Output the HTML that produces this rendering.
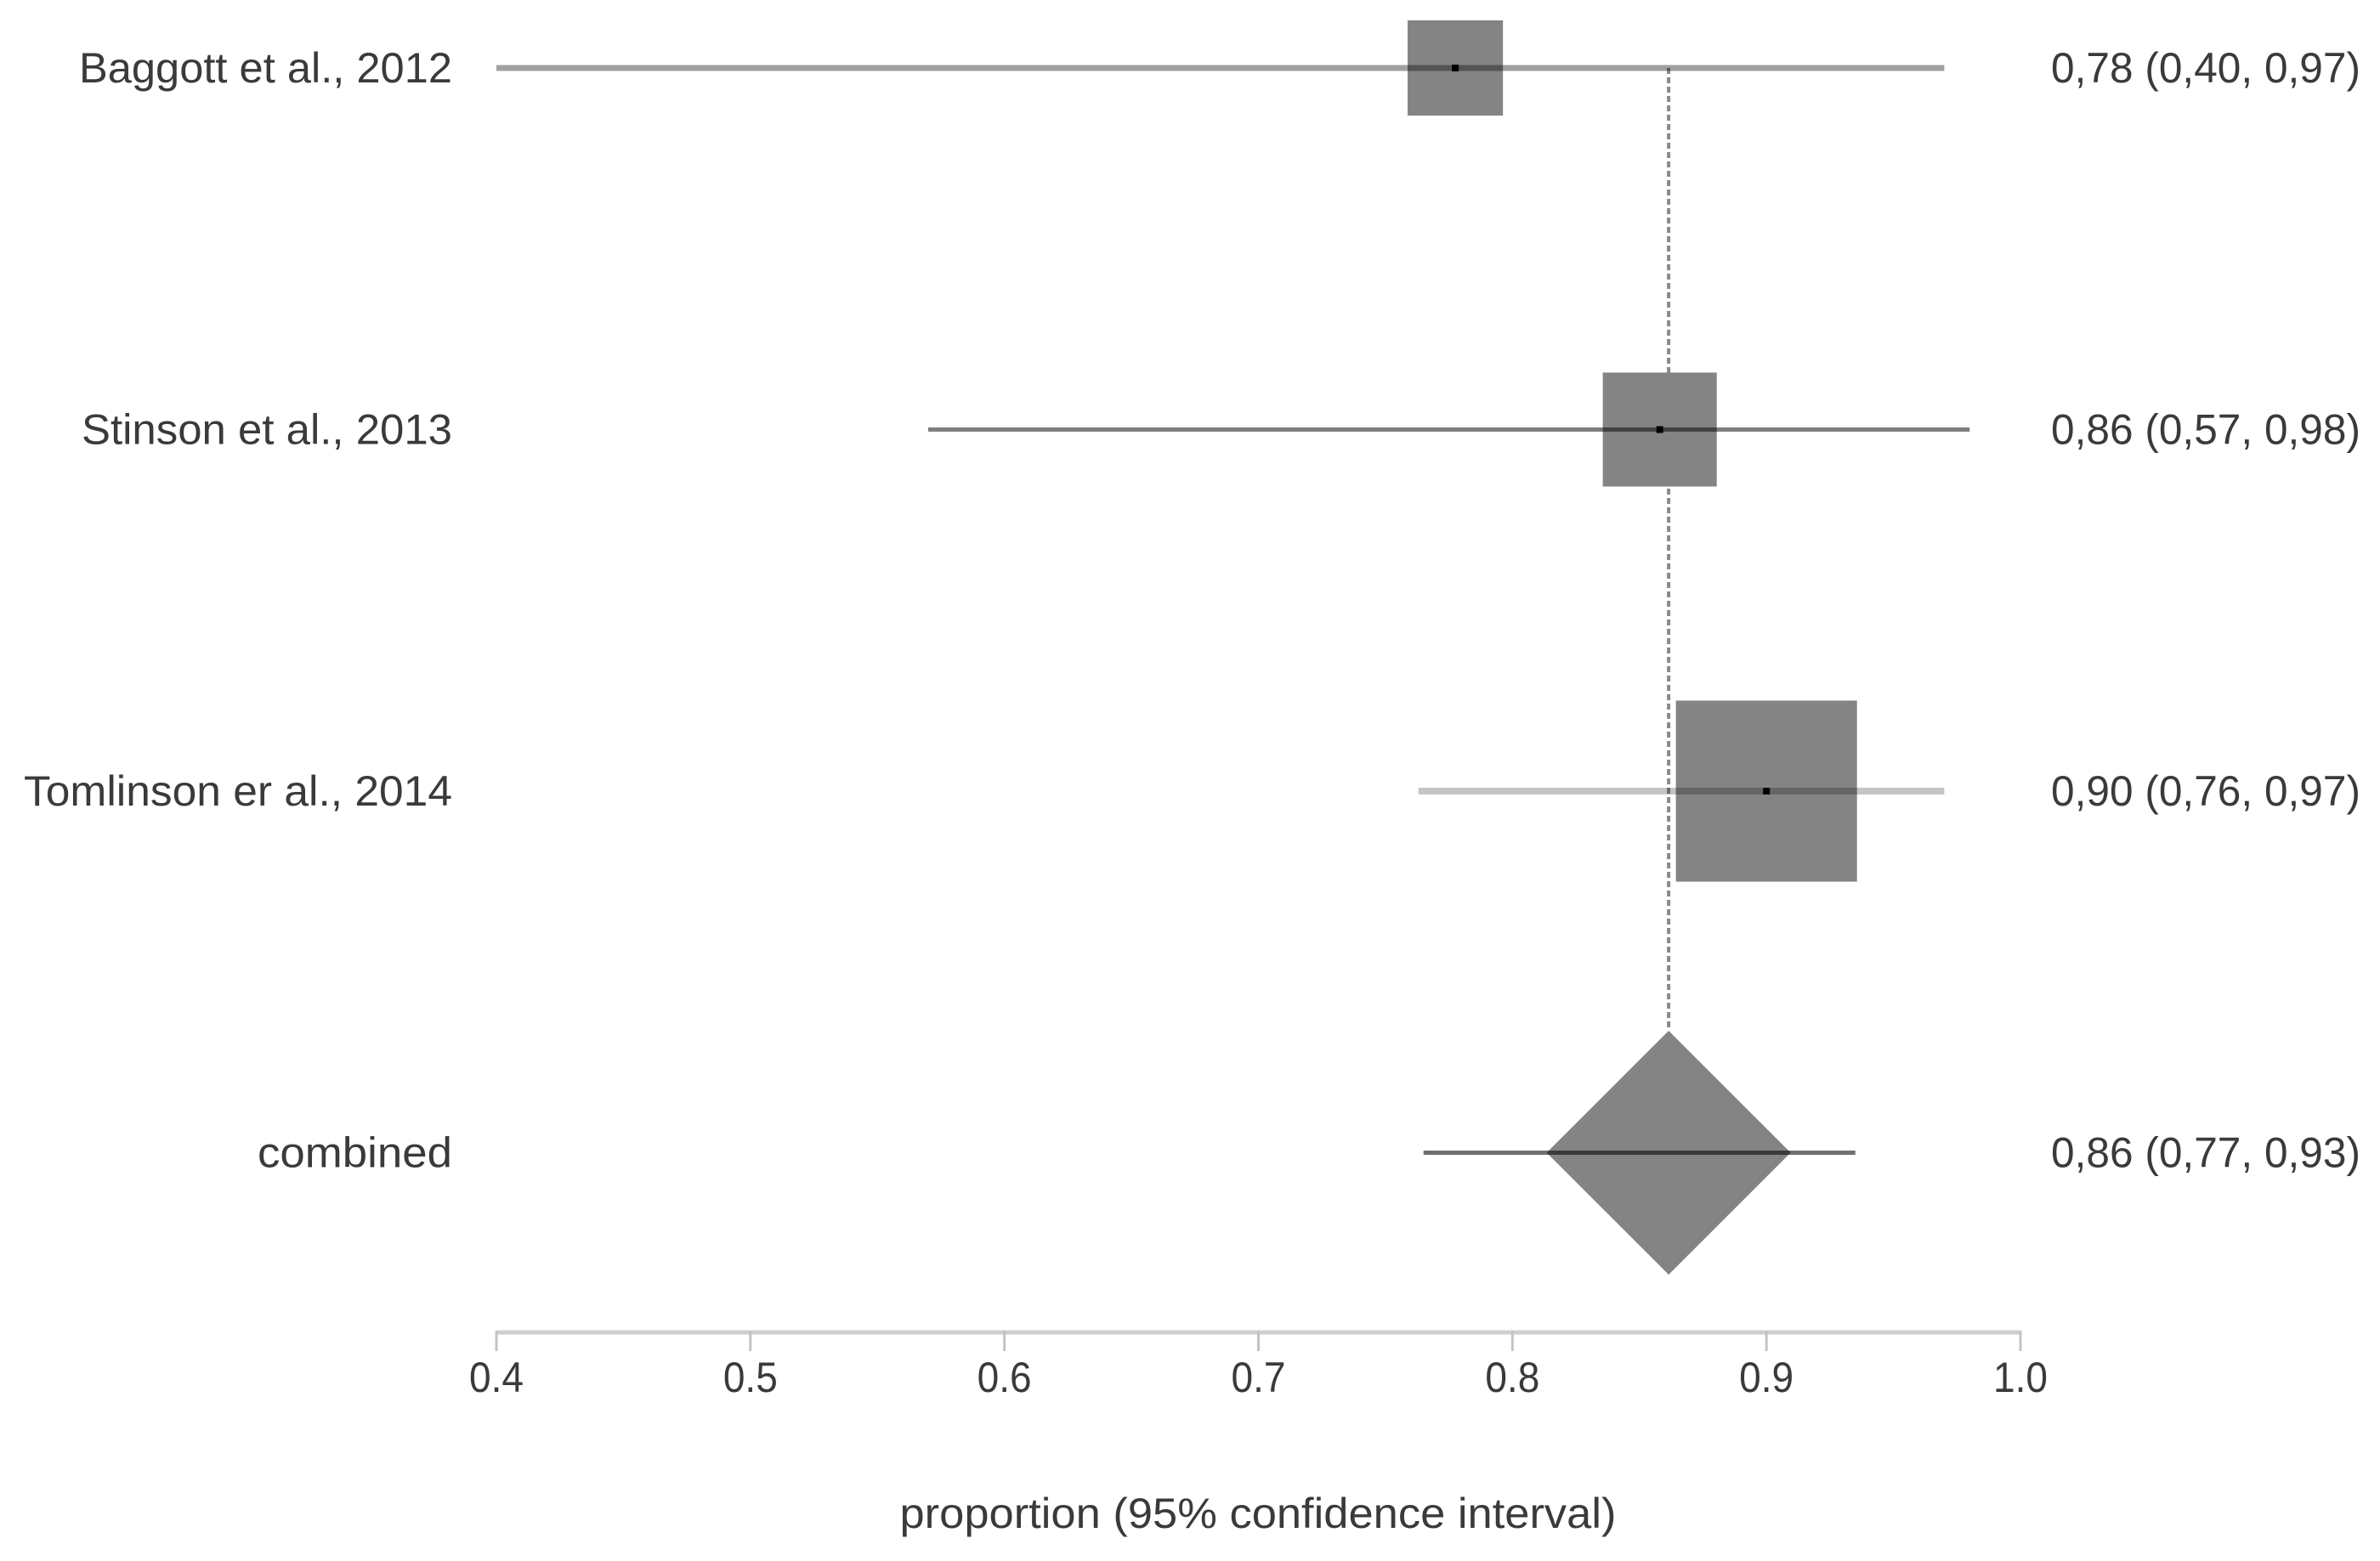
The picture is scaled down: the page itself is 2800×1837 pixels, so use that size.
<!DOCTYPE html>
<html><head><meta charset="utf-8"><style>
html,body{margin:0;padding:0;background:#fff;}
svg{display:block;}
text{font-family:"Liberation Sans",sans-serif;fill:#3a3a3a;}
</style></head><body>
<svg id="chart" width="2800" height="1837" viewBox="0 0 2800 1837" xmlns="http://www.w3.org/2000/svg"></svg>
<script>
const studies = ["Baggott et al., 2012","Stinson et al., 2013","Tomlinson er al., 2014"];
const estimates = [0.7775, 0.858, 0.90];
const lower = [0.40, 0.57, 0.763];
const upper = [0.97, 0.98, 0.97];
const weights = [16.5, 23.6, 59.6];
const printed = ["0,78 (0,40, 0,97)","0,86 (0,57, 0,98)","0,90 (0,76, 0,97)"];
const combinedLabel = "combined";
const combinedEst = 0.8615;
const combinedLow = 0.765;
const combinedHigh = 0.935;
const combinedPrinted = "0,86 (0,77, 0,93)";
const ticks = [0.4,0.5,0.6,0.7,0.8,0.9,1.0];
const tickLabels = ["0.4","0.5","0.6","0.7","0.8","0.9","1.0"];

const svg = document.getElementById('chart');
const NS = "http://www.w3.org/2000/svg";
const x = v => 584 + (v - 0.4) / 0.6 * 1793;
const rowY = i => 80 + i * 425.5;
const side = w => Math.sqrt(w) * 27.6;
const lineOpac = [0.37, 0.5, 0.23];
const lineW = [7, 5, 8];
const labelW = [439, 436, 504];
function mk(tag, attrs, parent){const e=document.createElementNS(NS,tag);for(const k in attrs)e.setAttribute(k,attrs[k]);(parent||svg).appendChild(e);return e;}

const comboY = rowY(3);
const dHalf = side(100)*0.52;
let ref = mk('line',{x1:x(combinedEst),x2:x(combinedEst),y1:rowY(0),y2:comboY-dHalf,stroke:'#8a8a8a','stroke-width':4,'stroke-dasharray':'7 4'});



studies.forEach((s,i)=>{
  const y = rowY(i);
  const sd = side(weights[i]);
  let b = mk('rect',{x:x(estimates[i])-sd/2,y:y-sd/2,width:sd,height:sd,fill:'#848484'});
  
  
  let l = mk('line',{x1:x(lower[i]),x2:x(upper[i]),y1:y,y2:y,stroke:'#000','stroke-opacity':lineOpac[i],'stroke-width':lineW[i]});
  
  
  let d = mk('rect',{x:x(estimates[i])-4,y:y-4,width:8,height:8,fill:'#000'});
  
  
  let t = mk('text',{x:532,y:y+17,'text-anchor':'end','font-size':50,textLength:labelW[i],lengthAdjust:'spacingAndGlyphs'});
  t.textContent = s;
  
  
  let r = mk('text',{x:2777,y:y+17,'text-anchor':'end','font-size':50,textLength:364,lengthAdjust:'spacingAndGlyphs'});
  r.textContent = printed[i];
  
  
});

const cx = x(combinedEst);
const dw = side(100)*0.52;
let dm = mk('polygon',{points:`${cx},${comboY-dHalf} ${cx+dw},${comboY} ${cx},${comboY+dHalf} ${cx-dw},${comboY}`,fill:'#848484'});


let cl = mk('line',{x1:x(combinedLow),x2:x(combinedHigh),y1:comboY,y2:comboY,stroke:'#000','stroke-opacity':0.56,'stroke-width':5});


let ct = mk('text',{x:532,y:comboY+17,'text-anchor':'end','font-size':50,textLength:229,lengthAdjust:'spacingAndGlyphs'});
ct.textContent = combinedLabel;


let cv = mk('text',{x:2777,y:comboY+17,'text-anchor':'end','font-size':50,textLength:364,lengthAdjust:'spacingAndGlyphs'});
cv.textContent = combinedPrinted;



let ax = mk('line',{x1:x(0.4),x2:x(1.0),y1:1568,y2:1568,stroke:'#cfcfcf','stroke-width':5});


ticks.forEach((v,i)=>{
  let tk = mk('line',{x1:x(v),x2:x(v),y1:1566,y2:1590,stroke:'#c4c4c4','stroke-width':3});
  
  
  let tl = mk('text',{x:x(v),y:1638,'text-anchor':'middle','font-size':50,textLength:64,lengthAdjust:'spacingAndGlyphs'});
  tl.textContent = tickLabels[i];
  
  
});
let at = mk('text',{x:1480,y:1798,'text-anchor':'middle','font-size':50,textLength:843,lengthAdjust:'spacingAndGlyphs'});
at.textContent = "proportion (95% confidence interval)";


</script>
</body></html>
